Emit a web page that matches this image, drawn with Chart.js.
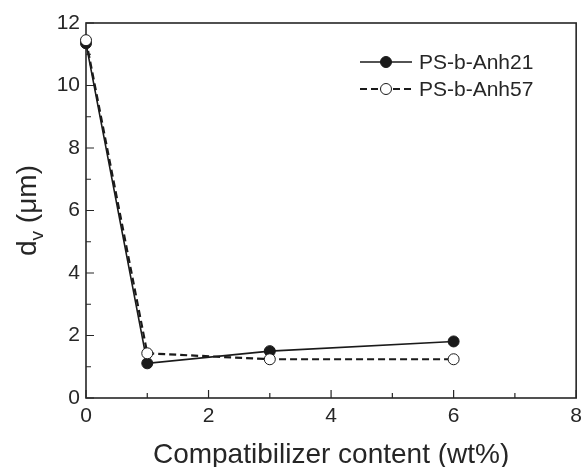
<!DOCTYPE html>
<html>
<head>
<meta charset="utf-8">
<script src="https://cdn.jsdelivr.net/npm/chart.js@4.4.0/dist/chart.umd.min.js"></script>
<style>
  html, body { margin: 0; padding: 0; background: #fff; }
  #wrap { width: 588px; height: 467px; }
</style>
</head>
<body>
<div id="wrap"><canvas id="grafica"></canvas></div>
<script>
// --- datos ---
const content = [0, 1, 3, 6];                 // wt%
const anh21 = [11.35, 1.11, 1.50, 1.81];      // dv (µm), símbolos llenos
const anh57 = [11.45, 1.43, 1.24, 1.24];      // dv (µm), símbolos abiertos
const seriesNames = ["PS-b-Anh21", "PS-b-Anh57"];
const xTicks = [0, 2, 4, 6, 8];
const yTicks = [0, 2, 4, 6, 8, 10, 12];
const xMinor = [1, 3, 5, 7];
const yMinor = [1, 3, 5, 7, 9, 11];

const INK = "#262626";
const FONT = "'Liberation Sans', Arial, sans-serif";

const toPoints = (xs, ys) => xs.map((x, i) => ({ x, y: ys[i] }));

// marco, marcas interiores, títulos y leyenda
const framePlugin = {
    id: "frame",
    beforeDatasetsDraw(chart) {
        const { ctx, chartArea: a, scales } = chart;
        ctx.save();
        ctx.strokeStyle = INK;
        ctx.lineWidth = 1.6;
        ctx.strokeRect(a.left, a.top, a.right - a.left, a.bottom - a.top);
        ctx.lineWidth = 1.2;
        ctx.beginPath();
        const tickX = (vals, len) => vals.forEach(v => {
            const px = scales.x.getPixelForValue(v);
            ctx.moveTo(px, a.bottom); ctx.lineTo(px, a.bottom - len);
        });
        const tickY = (vals, len) => vals.forEach(v => {
            const py = scales.y.getPixelForValue(v);
            ctx.moveTo(a.left, py); ctx.lineTo(a.left + len, py);
        });
        tickX(xTicks, 8); tickX(xMinor, 5);
        tickY(yTicks, 8); tickY(yMinor, 5);
        ctx.stroke();
        ctx.restore();
    },
    afterDraw(chart) {
        const { ctx, chartArea: a } = chart;
        ctx.save();
        ctx.fillStyle = INK;

        // título eje X
        ctx.font = "28px " + FONT;
        ctx.textAlign = "center";
        ctx.textBaseline = "alphabetic";
        ctx.fillText("Compatibilizer content (wt%)", (a.left + a.right) / 2, 463);

        // título eje Y con subíndice
        const cy = (a.top + a.bottom) / 2;
        ctx.translate(36, cy);
        ctx.rotate(-Math.PI / 2);
        ctx.textAlign = "left";
        const big = "28px " + FONT, small = "19px " + FONT;
        ctx.font = big;
        const wD = ctx.measureText("d").width;
        const wRest = ctx.measureText(" (\u03bcm)").width;
        ctx.font = small;
        const wV = ctx.measureText("v").width;
        let x0 = -(wD + wV + wRest) / 2;
        ctx.font = big; ctx.fillText("d", x0, 0); x0 += wD;
        ctx.font = small; ctx.fillText("v", x0, 7); x0 += wV;
        ctx.font = big; ctx.fillText(" (\u03bcm)", x0, 0);
        ctx.restore();

        // leyenda
        ctx.save();
        chart.data.datasets.forEach((ds, i) => {
            const y = 62 + i * 27;
            ctx.strokeStyle = ds.borderColor;
            ctx.lineWidth = ds.borderWidth;
            ctx.setLineDash(ds.borderDash || []);
            ctx.beginPath();
            ctx.moveTo(360, y); ctx.lineTo(412, y);
            ctx.stroke();
            ctx.setLineDash([]);
            ctx.beginPath();
            ctx.arc(386, y, ds.pointRadius, 0, Math.PI * 2);
            ctx.fillStyle = ds.pointBackgroundColor;
            ctx.fill();
            ctx.lineWidth = ds.pointBorderWidth;
            ctx.strokeStyle = ds.pointBorderColor;
            ctx.stroke();
            ctx.fillStyle = INK;
            ctx.font = "21px " + FONT;
            ctx.textAlign = "left";
            ctx.textBaseline = "middle";
            ctx.fillText(ds.label, 419, y + 1);
        });
        ctx.restore();
    }
};

new Chart(document.getElementById("grafica"), {
    type: "scatter",
    data: {
        datasets: [
            {
                label: seriesNames[0],
                data: toPoints(content, anh21),
                showLine: true,
                borderColor: "#1a1a1a",
                borderWidth: 1.6,
                pointRadius: 5.5,
                pointBackgroundColor: "#1a1a1a",
                pointBorderColor: "#1a1a1a",
                pointBorderWidth: 1,
                clip: false,
                order: 2
            },
            {
                label: seriesNames[1],
                data: toPoints(content, anh57),
                showLine: true,
                borderColor: "#1a1a1a",
                borderWidth: 2.2,
                borderDash: [7, 4],
                pointRadius: 5.5,
                pointBackgroundColor: "#ffffff",
                pointBorderColor: "#1a1a1a",
                pointBorderWidth: 1,
                clip: false,
                order: 1
            }
        ]
    },
    options: {
        responsive: true,
        maintainAspectRatio: false,
        animation: false,
        layout: { padding: { top: 23, right: 6, left: 0, bottom: 0 } },
        plugins: { legend: { display: false }, tooltip: { enabled: false } },
        scales: {
            x: {
                type: "linear",
                min: 0, max: 8,
                afterBuildTicks: s => { s.ticks = xTicks.map(v => ({ value: v })); },
                afterFit: s => { s.height = 69; },
                grid: { display: false, drawTicks: false },
                border: { display: false },
                ticks: { color: INK, font: { size: 21, family: FONT }, padding: 6 }
            },
            y: {
                type: "linear",
                min: 0, max: 12,
                afterBuildTicks: s => { s.ticks = yTicks.map(v => ({ value: v })); },
                afterFit: s => { s.width = 86; },
                grid: { display: false, drawTicks: false },
                border: { display: false },
                ticks: { color: INK, font: { size: 21, family: FONT }, padding: 6 }
            }
        }
    },
    plugins: [framePlugin]
});
</script>
</body>
</html>
